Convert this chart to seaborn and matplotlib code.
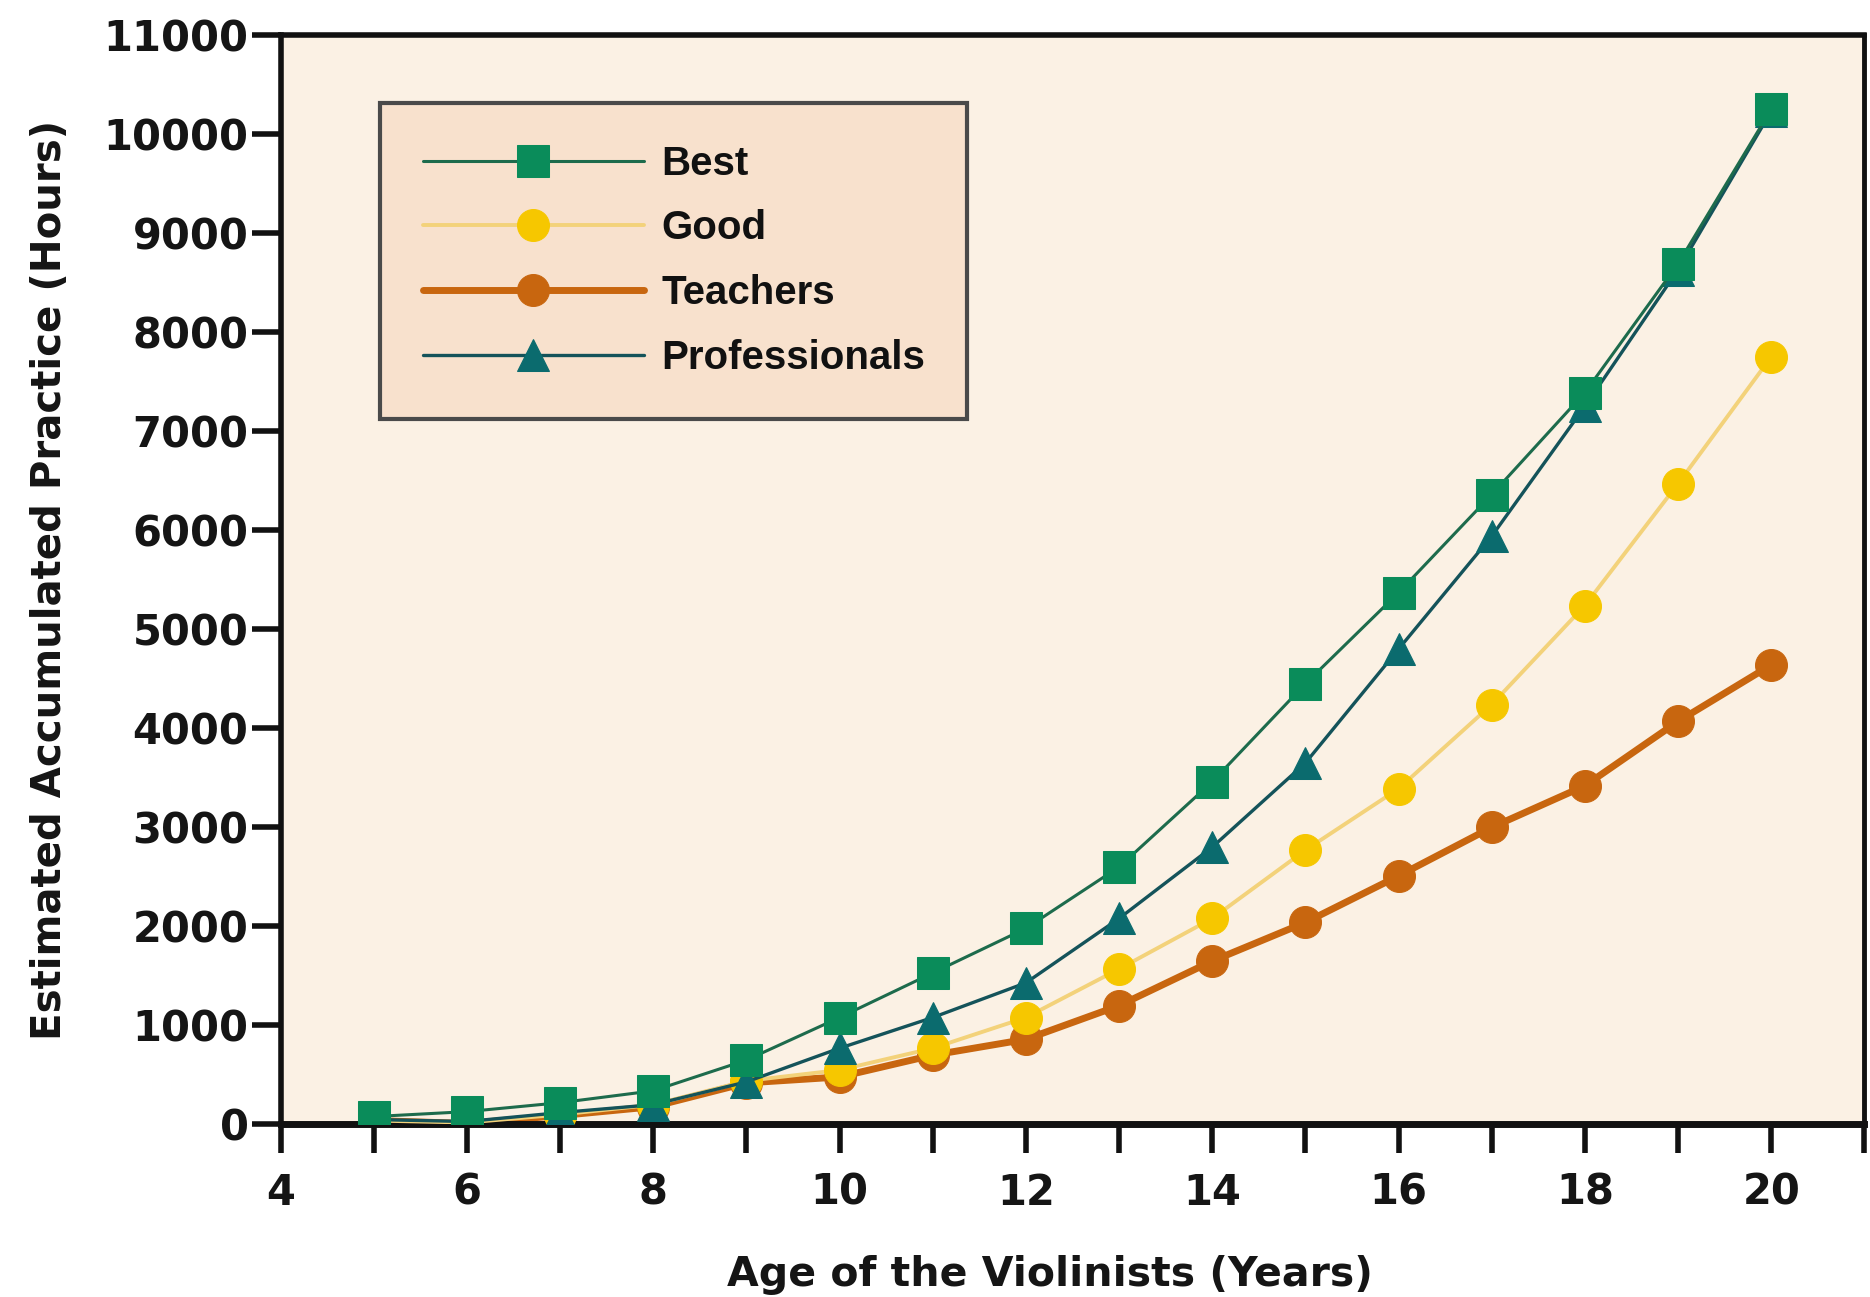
import matplotlib
matplotlib.use("Agg")
import matplotlib.pyplot as plt
import matplotlib.ticker as ticker
import seaborn as sns
import pandas as pd

# accumulated practice hours
ages = [5, 6, 7, 8, 9, 10, 11, 12, 13, 14, 15, 16, 17, 18, 19, 20]
best = [80, 130, 220, 340, 650, 1080, 1530, 1980, 2600, 3460, 4450, 5370, 6360, 7390, 8690, 10250]
good = [40, 20, 100, 200, 440, 550, 770, 1080, 1570, 2080, 2770, 3390, 4240, 5240, 6470, 7750]
teachers = [40, 10, 90, 180, 420, 480, 700, 860, 1200, 1650, 2040, 2510, 3000, 3420, 4070, 4640]
professionals = [50, 30, 120, 200, 430, 770, 1080, 1430, 2080, 2800, 3650, 4800, 5940, 7250, 8630, 10230]

group_names = ["Best", "Good", "Teachers", "Professionals"]
x_ticks = [4, 6, 8, 10, 12, 14, 16, 18, 20]
y_ticks = [0, 1000, 2000, 3000, 4000, 5000, 6000, 7000, 8000, 9000, 10000, 11000]

sns.set_style("ticks")
plt.rcParams['font.family'] = ['DejaVu Sans']
plt.rcParams['font.weight'] = 'bold'

data = pd.DataFrame({
    "age": ages * 4,
    "hours": best + good + teachers + professionals,
    "group": sum([[g] * len(ages) for g in group_names], []),
})

styles = {
    "Best":          dict(color="#1d6b4c", mfc="#0a8c5a", marker="s", lw=2.2, z=5),
    "Good":          dict(color="#f3d27a", mfc="#f6c700", marker="o", lw=2.8, z=3),
    "Teachers":      dict(color="#c8660f", mfc="#c8660f", marker="o", lw=5.0, z=2),
    "Professionals": dict(color="#14535a", mfc="#0b6b6e", marker="^", lw=2.4, z=4),
}

fig = plt.figure(figsize=(18.7, 12.97), dpi=100)
ax = fig.add_axes([0.150, 0.133, 0.847, 0.840])
ax.set_facecolor("#fbf1e4")

for g in group_names:
    st = styles[g]
    sel = data[data["group"] == g]
    sns.lineplot(data=sel, x="age", y="hours", ax=ax, label=g,
                 color=st["color"], linewidth=st["lw"], marker=st["marker"],
                 markersize=23, markerfacecolor=st["mfc"], markeredgecolor=st["mfc"],
                 zorder=st["z"])

ax.set_xlim(4, 21)
ax.set_ylim(0, 11000)
ax.xaxis.set_major_locator(ticker.FixedLocator(x_ticks))
ax.xaxis.set_minor_locator(ticker.MultipleLocator(1))
ax.set_yticks(y_ticks)
ax.tick_params(axis="both", which="both", direction="out", length=21, width=4,
               color="#111111", labelsize=30, labelcolor="#151515")
ax.tick_params(axis="y", pad=2)
ax.tick_params(axis="x", which="both", pad=13)
for lab in ax.get_xticklabels() + ax.get_yticklabels():
    lab.set_fontweight("bold")

for side in ["left", "bottom", "top", "right"]:
    ax.spines[side].set_visible(True)
    ax.spines[side].set_color("#111111")
ax.spines["left"].set_linewidth(4)
ax.spines["bottom"].set_linewidth(5)
ax.spines["top"].set_linewidth(4)
ax.spines["right"].set_linewidth(3.5)

ax.set_xlabel("Age of the Violinists (Years)", fontsize=29.5, fontweight="bold",
              color="#151515")
ax.set_ylabel("Estimated Accumulated Practice (Hours)", fontsize=29, fontweight="bold",
              labelpad=24, color="#151515")
ax.xaxis.set_label_coords(0.486, -0.12)

leg = ax.legend(loc="upper left", bbox_to_anchor=(0.063, 0.938), borderaxespad=0,
                prop={"family": "Liberation Sans", "weight": "bold", "size": 29},
                frameon=True, fancybox=False, handlelength=5.5,
                handletextpad=0.42, labelspacing=0.66, borderpad=1.05)
leg.get_frame().set_facecolor("#f8e1cd")
leg.get_frame().set_edgecolor("#4a4a4a")
leg.get_frame().set_linewidth(3)
leg.get_frame().set_alpha(1)
for t in leg.get_texts():
    t.set_color("#111111")

plt.savefig("out.png", dpi=100, facecolor="white")
